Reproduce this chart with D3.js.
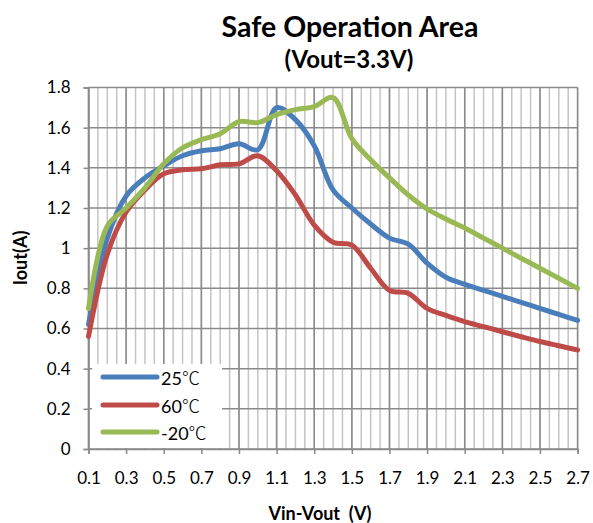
<!DOCTYPE html>
<html>
<head>
<meta charset="utf-8">
<script src="https://cdn.jsdelivr.net/npm/d3@7"></script>
<style>
  html, body { margin: 0; padding: 0; background: #fff; }
  svg { display: block; }
  text { font-family: Lato, "Noto Sans CJK SC", sans-serif; fill: #000; }
</style>
</head>
<body>
<svg id="chart" width="593" height="523"></svg>
<script>
// ---- data ----
const vinVout = [0.1, 0.2, 0.3, 0.4, 0.5, 0.6, 0.7, 0.8, 0.9, 1.0, 1.1, 1.2, 1.3, 1.4,
                 1.5, 1.6, 1.7, 1.8, 1.9, 2.0, 2.1, 2.2, 2.3, 2.4, 2.5, 2.6, 2.7];
const iout25 = [0.62, 1.05, 1.26, 1.35, 1.41, 1.46, 1.485, 1.495, 1.52, 1.49, 1.70, 1.64, 1.51, 1.29,
                1.20, 1.12, 1.05, 1.02, 0.925, 0.855, 0.82, 0.79, 0.76, 0.73, 0.70, 0.67, 0.64];
const iout60 = [0.56, 0.97, 1.18, 1.29, 1.37, 1.39, 1.395, 1.415, 1.42, 1.46, 1.385, 1.265, 1.115, 1.03,
                1.015, 0.90, 0.79, 0.775, 0.70, 0.665, 0.634, 0.609, 0.584, 0.559, 0.535, 0.514, 0.493];
const ioutM20 = [0.70, 1.11, 1.20, 1.30, 1.42, 1.50, 1.54, 1.57, 1.63, 1.625, 1.665, 1.69, 1.705, 1.75,
                 1.545, 1.44, 1.35, 1.265, 1.195, 1.145, 1.10, 1.05, 1.00, 0.95, 0.90, 0.85, 0.80];
const seriesNames = ["25", "60", "-20"];
const unitSymbol = "℃";
const xTickValues = [0.1, 0.3, 0.5, 0.7, 0.9, 1.1, 1.3, 1.5, 1.7, 1.9, 2.1, 2.3, 2.5, 2.7];
const xTickLabels = ["0.1", "0.3", "0.5", "0.7", "0.9", "1.1", "1.3", "1.5", "1.7", "1.9", "2.1", "2.3", "2.5", "2.7"];
const yTickValues = [0, 0.2, 0.4, 0.6, 0.8, 1.0, 1.2, 1.4, 1.6, 1.8];
const yTickLabels = ["0", "0.2", "0.4", "0.6", "0.8", "1", "1.2", "1.4", "1.6", "1.8"];
const titleText = "Safe Operation Area";
const subtitleText = "(Vout=3.3V)";
const xAxisTitle = "Vin-Vout  (V)";
const yAxisTitle = "Iout(A)";

// ---- layout ----
const svg = d3.select("#chart");
const pLeft = 88.5, pRight = 577.6, pTop = 87.5, pBottom = 449;
const x = d3.scaleLinear().domain([0.1, 2.7]).range([pLeft, pRight]);
const y = d3.scaleLinear().domain([0, 1.8]).range([pBottom, pTop]);
const colors = ["#4a7ebb", "#be4b48", "#98b954"];
const seriesData = [iout25, iout60, ioutM20];

// minor vertical gridlines every 0.05
const minorX = d3.range(0, 53).map(i => +(0.1 + i * 0.05).toFixed(2));
svg.append("g").selectAll("line").data(minorX).join("line")
  .attr("x1", d => x(d)).attr("x2", d => x(d))
  .attr("y1", pTop).attr("y2", pBottom)
  .attr("stroke", "#c4c4c4").attr("stroke-width", 1.5);
// major vertical gridlines
svg.append("g").selectAll("line").data(xTickValues).join("line")
  .attr("x1", d => x(d)).attr("x2", d => x(d))
  .attr("y1", pTop).attr("y2", pBottom)
  .attr("stroke", "#8a8a8a").attr("stroke-width", 1.5);
// horizontal gridlines
svg.append("g").selectAll("line").data(yTickValues).join("line")
  .attr("x1", pLeft).attr("x2", pRight)
  .attr("y1", d => y(d)).attr("y2", d => y(d))
  .attr("stroke", "#8a8a8a").attr("stroke-width", 1.5);

// axes
const xAxis = d3.axisBottom(x).tickValues(xTickValues)
  .tickFormat((d, i) => xTickLabels[i]).tickSize(5).tickPadding(18);
const gx = svg.append("g").attr("transform", `translate(0,${pBottom})`).call(xAxis);
const yAxis = d3.axisLeft(y).tickValues(yTickValues)
  .tickFormat((d, i) => yTickLabels[i]).tickSize(5).tickPadding(13);
const gy = svg.append("g").attr("transform", `translate(${pLeft},0)`).call(yAxis);
[gx, gy].forEach(g => {
  g.select(".domain").attr("stroke", "#8a8a8a").attr("stroke-width", 1.5);
  g.selectAll(".tick line").attr("stroke", "#8a8a8a").attr("stroke-width", 1.5);
  g.selectAll(".tick text").attr("font-size", 17).attr("font-family", "Lato, sans-serif").attr("fill", "#000");
});

// series lines
const line = d3.line()
  .x((d, i) => x(vinVout[i]))
  .y(d => y(d))
  .curve(d3.curveCatmullRom.alpha(0.5));
svg.append("g").selectAll("path").data(seriesData).join("path")
  .attr("d", d => line(d))
  .attr("fill", "none")
  .attr("stroke", (d, i) => colors[i])
  .attr("stroke-width", 5)
  .attr("stroke-linecap", "round")
  .attr("stroke-linejoin", "round");

// legend
const lg = svg.append("g");
lg.append("rect").attr("x", 92).attr("y", 364).attr("width", 130).attr("height", 84).attr("fill", "#fff");
const rows = [377, 405, 432];
seriesNames.forEach((name, i) => {
  lg.append("line").attr("x1", 103).attr("x2", 157).attr("y1", rows[i]).attr("y2", rows[i])
    .attr("stroke", colors[i]).attr("stroke-width", 5).attr("stroke-linecap", "round");
  const t = lg.append("text").attr("x", 161).attr("y", rows[i] + 8).style("font-size", "18px");
  t.append("tspan").text(name);
  t.append("tspan").style("font-family", "'Noto Sans CJK SC', 'Noto Sans CJK JP', sans-serif")
    .style("font-weight", "300").text(unitSymbol);
});

// titles
svg.append("text").attr("x", 350).attr("y", 37).attr("text-anchor", "middle")
  .attr("font-size", 28.5).attr("font-weight", "bold").text(titleText);
svg.append("text").attr("x", 349).attr("y", 68).attr("text-anchor", "middle")
  .attr("font-size", 24).attr("font-weight", "bold").text(subtitleText);
svg.append("text").attr("x", 320).attr("y", 520).attr("text-anchor", "middle")
  .attr("font-size", 18).attr("font-weight", "bold").attr("xml:space", "preserve").text(xAxisTitle);
svg.append("text").attr("transform", "translate(27,258) rotate(-90)").attr("text-anchor", "middle")
  .attr("font-size", 18).attr("font-weight", "bold").text(yAxisTitle);
</script>
</body>
</html>
